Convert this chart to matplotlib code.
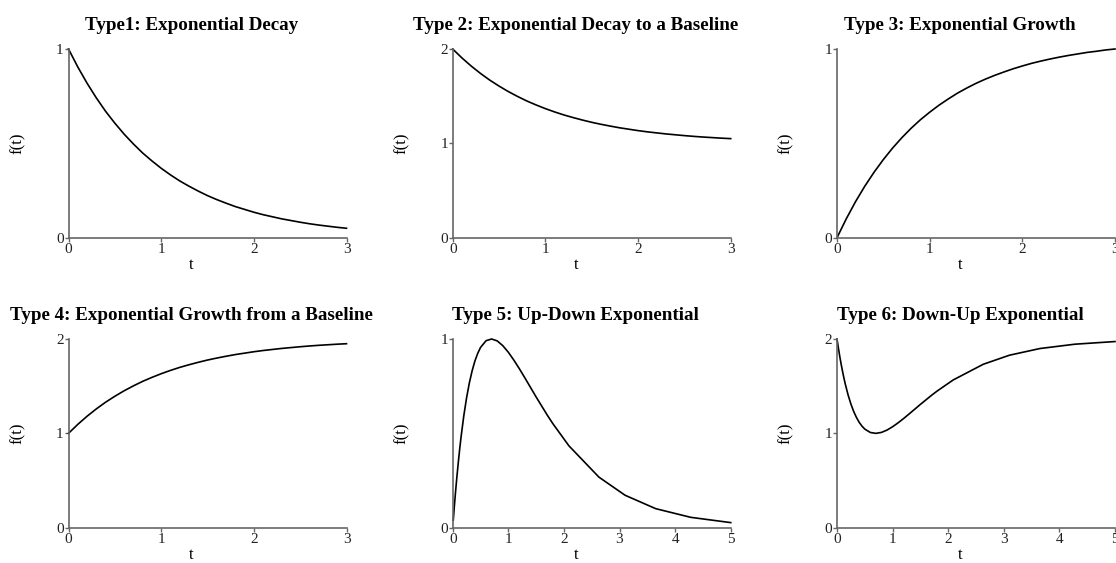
import matplotlib
matplotlib.use("Agg")
import matplotlib.pyplot as plt

plt.rcParams['font.family'] = ['Liberation Serif', 'DejaVu Serif']

# sample grid for types 1-4
t_short = [0.0, 0.1, 0.2, 0.3, 0.4, 0.5, 0.6, 0.7, 0.8, 0.9, 1.0,
           1.1, 1.2, 1.3, 1.4, 1.5, 1.6, 1.7, 1.8, 1.9, 2.0,
           2.1, 2.2, 2.3, 2.4, 2.5, 2.6, 2.7, 2.8, 2.9, 3.0]

type1 = [1.000, 0.905, 0.819, 0.741, 0.670, 0.607, 0.549, 0.497, 0.449, 0.407, 0.368,
         0.333, 0.301, 0.273, 0.247, 0.223, 0.202, 0.183, 0.165, 0.150, 0.135,
         0.122, 0.111, 0.100, 0.091, 0.082, 0.074, 0.067, 0.061, 0.055, 0.050]

type2 = [2.000, 1.905, 1.819, 1.741, 1.670, 1.607, 1.549, 1.497, 1.449, 1.407, 1.368,
         1.333, 1.301, 1.273, 1.247, 1.223, 1.202, 1.183, 1.165, 1.150, 1.135,
         1.122, 1.111, 1.100, 1.091, 1.082, 1.074, 1.067, 1.061, 1.055, 1.050]

type3 = [0.000, 0.100, 0.191, 0.273, 0.347, 0.414, 0.475, 0.530, 0.580, 0.625, 0.665,
         0.702, 0.735, 0.766, 0.793, 0.818, 0.840, 0.860, 0.878, 0.895, 0.910,
         0.924, 0.936, 0.947, 0.957, 0.966, 0.974, 0.982, 0.988, 0.995, 1.000]

type4 = [1.000, 1.095, 1.181, 1.259, 1.330, 1.393, 1.451, 1.503, 1.551, 1.593, 1.632,
         1.667, 1.699, 1.727, 1.753, 1.777, 1.798, 1.817, 1.835, 1.850, 1.865,
         1.878, 1.889, 1.900, 1.909, 1.918, 1.926, 1.933, 1.939, 1.945, 1.950]

# sample grid for types 5-6 (coarser toward the tail, as in the picture)
t_long5 = [0.01, 0.03, 0.05, 0.075, 0.1, 0.125, 0.15, 0.2, 0.25, 0.3,
           0.35, 0.4, 0.45, 0.5, 0.6, 0.7, 0.8, 0.9, 1.0, 1.1,
           1.2, 1.3, 1.4, 1.5, 1.6, 1.7, 1.8, 2.09, 2.63, 3.1,
           3.65, 4.28, 5.0]

type5 = [0.039, 0.115, 0.186, 0.268, 0.344, 0.415, 0.480, 0.594, 0.689, 0.768,
         0.832, 0.884, 0.924, 0.955, 0.991, 1.000, 0.990, 0.965, 0.930, 0.888,
         0.842, 0.793, 0.743, 0.693, 0.645, 0.597, 0.552, 0.434, 0.268, 0.172,
         0.101, 0.055, 0.027]

t_long6 = [0.0, 0.025, 0.05, 0.075, 0.1, 0.125, 0.15, 0.2, 0.25, 0.3,
           0.35, 0.4, 0.45, 0.5, 0.6, 0.7, 0.8, 0.9, 1.0, 1.1,
           1.2, 1.3, 1.4, 1.5, 1.6, 1.7, 1.8, 2.09, 2.63, 3.1,
           3.65, 4.28, 5.0]

type6 = [2.000, 1.904, 1.814, 1.732, 1.656, 1.585, 1.520, 1.406, 1.311, 1.232,
         1.168, 1.116, 1.076, 1.045, 1.009, 1.000, 1.010, 1.035, 1.070, 1.112,
         1.158, 1.207, 1.257, 1.307, 1.355, 1.403, 1.448, 1.566, 1.732, 1.828,
         1.899, 1.945, 1.973]

titles = ["Type1: Exponential Decay",
          "Type 2: Exponential Decay to a Baseline",
          "Type 3: Exponential Growth",
          "Type 4: Exponential Growth from a Baseline",
          "Type 5: Up-Down Exponential",
          "Type 6: Down-Up Exponential"]

panels = [(t_short, type1, 3, 1), (t_short, type2, 3, 2), (t_short, type3, 3, 1),
          (t_short, type4, 3, 2), (t_long5, type5, 5, 1), (t_long6, type6, 5, 2)]

W, H = 1116, 563
fig = plt.figure(figsize=(W / 100, H / 100), dpi=100)

lefts = [68.5, 452.7, 837.0]
tops = [49.0, 339.0]
aw, ah = 278.0, 188.7
spine_col = '#666666'

for i, (tt, yy, xmax, ymax) in enumerate(panels):
    r, c = divmod(i, 3)
    ax = fig.add_axes([lefts[c] / W, (H - tops[r] - ah) / H, aw / W, ah / H])
    ax.plot(tt, yy, color='black', lw=1.2, clip_on=False)
    ax.set_xlim(0, xmax)
    ax.set_ylim(0, ymax)
    ax.set_xticks(range(xmax + 1))
    ax.set_yticks(range(ymax + 1))
    for s in ['top', 'right']:
        ax.spines[s].set_visible(False)
    for s in ['left', 'bottom']:
        ax.spines[s].set_color(spine_col)
        ax.spines[s].set_linewidth(1.2)
    ax.tick_params(length=3, width=1, color=spine_col, labelsize=11, pad=0.5,
                   labelcolor='#222222')
    ax.set_title(titles[i], fontsize=13.7, fontweight='bold', pad=14,
                 x=0.5 - 16 / aw)
    ax.set_xlabel('t', fontsize=12)
    ax.xaxis.set_label_coords(0.5 - 16 / aw, -0.1)
    ax.set_ylabel('f(t)', fontsize=12)
    ax.yaxis.set_label_coords(-0.155, 0.5)

fig.savefig('out.png', dpi=100)
